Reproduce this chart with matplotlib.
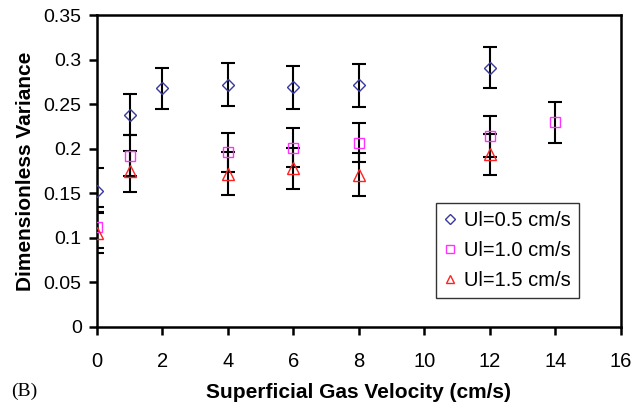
import matplotlib
matplotlib.use("Agg")
import matplotlib.pyplot as plt

# Data
x1 = [0, 1, 2, 4, 6, 8, 12]
y1 = [0.153, 0.238, 0.268, 0.272, 0.269, 0.271, 0.291]
e1 = [0.025, 0.023, 0.023, 0.024, 0.024, 0.024, 0.023]

x2 = [0, 1, 4, 6, 8, 12, 14]
y2 = [0.112, 0.192, 0.196, 0.201, 0.207, 0.214, 0.230]
e2 = [0.023, 0.023, 0.022, 0.022, 0.022, 0.023, 0.023]

x3 = [0, 1, 4, 6, 8, 12]
y3 = [0.106, 0.175, 0.172, 0.178, 0.171, 0.194]
e3 = [0.023, 0.023, 0.024, 0.023, 0.024, 0.023]

labels = ["Ul=0.5 cm/s", "Ul=1.0 cm/s", "Ul=1.5 cm/s"]
xticks = [0, 2, 4, 6, 8, 10, 12, 14, 16]
yticks = [0, 0.05, 0.1, 0.15, 0.2, 0.25, 0.3, 0.35]
ytick_labels = ["0", "0.05", "0.1", "0.15", "0.2", "0.25", "0.3", "0.35"]

plt.rcParams['font.family'] = ['Liberation Sans', 'DejaVu Sans']

fig = plt.figure(figsize=(6.4, 4.07), dpi=100)
ax = fig.add_axes([0.1516, 0.1966, 0.8184, 0.7664])

series = [
    (x1, y1, e1, 'D', '#3a3a9c', 6),
    (x2, y2, e2, 's', '#ff33ff', 7),
    (x3, y3, e3, '^', '#ff2020', 8),
]
handles = []
for (x, y, e, m, c, ms), lab in zip(series, labels):
    ax.errorbar(x, y, yerr=e, fmt='none', ecolor='black', elinewidth=1.5,
                capsize=4.7, capthick=1.5, zorder=2)
    h, = ax.plot(x, y, linestyle='none', marker=m, markersize=ms,
                 markerfacecolor='none', markeredgecolor=c, markeredgewidth=1.0,
                 label=lab, zorder=3)
    handles.append(h)

ax.set_xlim(0, 16)
ax.set_ylim(0, 0.35)
ax.set_xticks(xticks)
ax.set_xticklabels([str(t) for t in xticks])
ax.set_yticks(yticks)
ax.set_yticklabels(ytick_labels)
ax.tick_params(axis='both', direction='out', length=6, width=1.8, colors='black')
ax.tick_params(axis='x', pad=12, labelsize=14.5)
ax.tick_params(axis='y', pad=5, labelsize=14)
for sp in ax.spines.values():
    sp.set_linewidth(1.8)
    sp.set_color('black')

ax.set_xlabel("Superficial Gas Velocity (cm/s)", fontsize=15, fontweight='bold', labelpad=9)
ax.set_ylabel("Dimensionless Variance", fontsize=15, fontweight='bold', labelpad=6)

leg = ax.legend(handles=handles, loc='lower right', bbox_to_anchor=(0.920, 0.093),
                fontsize=14.5, frameon=True, fancybox=False, edgecolor='black',
                handlelength=0.6, handletextpad=0.4, borderpad=0.4,
                labelspacing=0.55, markerscale=0.8, borderaxespad=0)
leg.get_frame().set_linewidth(1.0)

fig.text(0.018, 0.038, "(B)", fontsize=14, family=['Liberation Serif'], ha='left', va='center')

fig.savefig("out.png", dpi=100)
